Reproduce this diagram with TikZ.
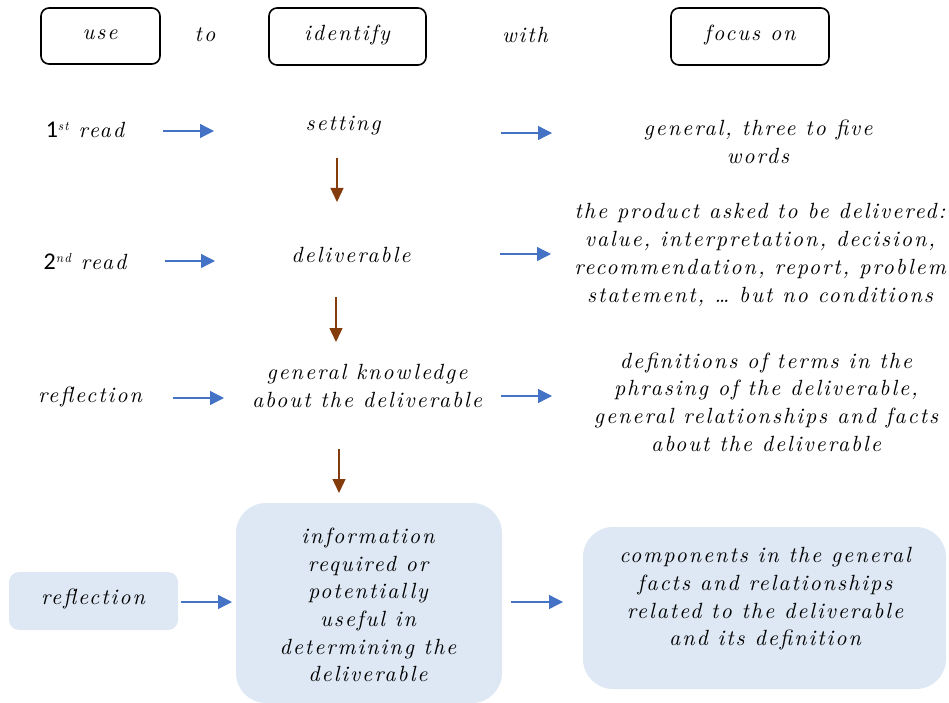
\documentclass[tikz,border=0pt]{standalone}
\usepackage{fontspec}
\newfontfamily\hand{lmroman10-italic.otf}[LetterSpace=9]
\newfontfamily\numfont{Carlito}
\usetikzlibrary{arrows.meta}
\definecolor{flowblue}{HTML}{4472C4}
\definecolor{flowbrown}{HTML}{843C0C}
\definecolor{panel}{HTML}{DEE8F4}
\tikzset{
  txt/.style={align=center, inner sep=0pt, font=\hand\fontsize{22}{27.7}\selectfont},
  headbox/.style={draw=black, line width=1.6pt, rounded corners=8pt},
  panelbox/.style={fill=panel, draw=none},
  bluearrow/.style={draw=flowblue, line width=1.3pt, -{Triangle[length=14pt,width=14pt]}, fill=flowblue},
  brownarrow/.style={draw=flowbrown, line width=1.3pt, -{Triangle[length=14pt,width=13pt]}, fill=flowbrown},
}
\newcommand{\ordnum}[2]{{\numfont\fontsize{24}{24}\selectfont #1}\raisebox{7pt}{\fontsize{13}{13}\selectfont #2}}
\begin{document}
\begin{tikzpicture}[x=1pt,y=-1pt]
\useasboundingbox (0,0) rectangle (949,703);

% header row
\draw[headbox] (41,8) rectangle (160,64);
\node[txt] (huse) at (100,35) {use};
\node[txt] (hto) at (205,35) {to};
\draw[headbox] (269,8) rectangle (426,65);
\node[txt] (hid) at (347,35) {identify};
\node[txt] (hwith) at (525,35) {with};
\draw[headbox] (671,8) rectangle (829,65);
\node[txt] (hfocus) at (750,35) {focus on};

% row 1
\node[txt] (r1use) at (85,130) {\ordnum{1}{st} read};
\node[txt] (r1id) at (343,126) {setting};
\node[txt] (r1focus) at (758,142) {general, three to five\\words};
\coordinate (a1s) at (163,131); \coordinate (a1e) at (214,131);
\coordinate (b1s) at (501,133); \coordinate (b1e) at (552,133);
\draw[bluearrow] (a1s) -- (a1e);
\draw[bluearrow] (b1s) -- (b1e);
\coordinate (d1s) at (337,158); \coordinate (d1e) at (337,202);
\draw[brownarrow] (d1s) -- (d1e);

% row 2
\node[txt] (r2use) at (85,262) {\ordnum{2}{nd} read};
\node[txt] (r2id) at (351,255) {deliverable};
\node[txt] (r2focus) at (760,255) {the product asked to be delivered:\\value, interpretation, decision,\\recommendation, report, problem\\statement, \dots\ but no conditions};
\coordinate (a2s) at (165,261); \coordinate (a2e) at (215,261);
\coordinate (b2s) at (500,254); \coordinate (b2e) at (551,254);
\draw[bluearrow] (a2s) -- (a2e);
\draw[bluearrow] (b2s) -- (b2e);
\coordinate (d2s) at (336,297); \coordinate (d2e) at (336,342);
\draw[brownarrow] (d2s) -- (d2e);

% row 3
\node[txt] (r3use) at (90,397) {reflection};
\node[txt] (r3id) at (367,386) {general knowledge\\about the deliverable};
\node[txt] (r3focus) at (766,402) {definitions of terms in the\\phrasing of the deliverable,\\general relationships and facts\\about the deliverable};
\coordinate (a3s) at (173,398); \coordinate (a3e) at (224,398);
\coordinate (b3s) at (501,396); \coordinate (b3e) at (552,396);
\draw[bluearrow] (a3s) -- (a3e);
\draw[bluearrow] (b3s) -- (b3e);
\coordinate (d3s) at (339,449); \coordinate (d3e) at (339,493);
\draw[brownarrow] (d3s) -- (d3e);

% row 4: shaded panels
\fill[panelbox, rounded corners=10pt] (9,572) rectangle (178,630);
\fill[panelbox, rounded corners=30pt] (236,503) rectangle (502,703);
\fill[panelbox, rounded corners=30pt] (583,527) rectangle (946,689);
\node[txt] (r4use) at (93,599) {reflection};
\node[txt] (r4id) at (368,605) {information\\required or\\potentially\\useful in\\determining the\\deliverable};
\node[txt] (r4focus) at (765,599) {components in the general\\facts and relationships\\related to the deliverable\\and its definition};
\coordinate (a4s) at (181,602); \coordinate (a4e) at (232,602);
\coordinate (b4s) at (511,602); \coordinate (b4e) at (563,602);
\draw[bluearrow] (a4s) -- (a4e);
\draw[bluearrow] (b4s) -- (b4e);
\end{tikzpicture}
\end{document}
